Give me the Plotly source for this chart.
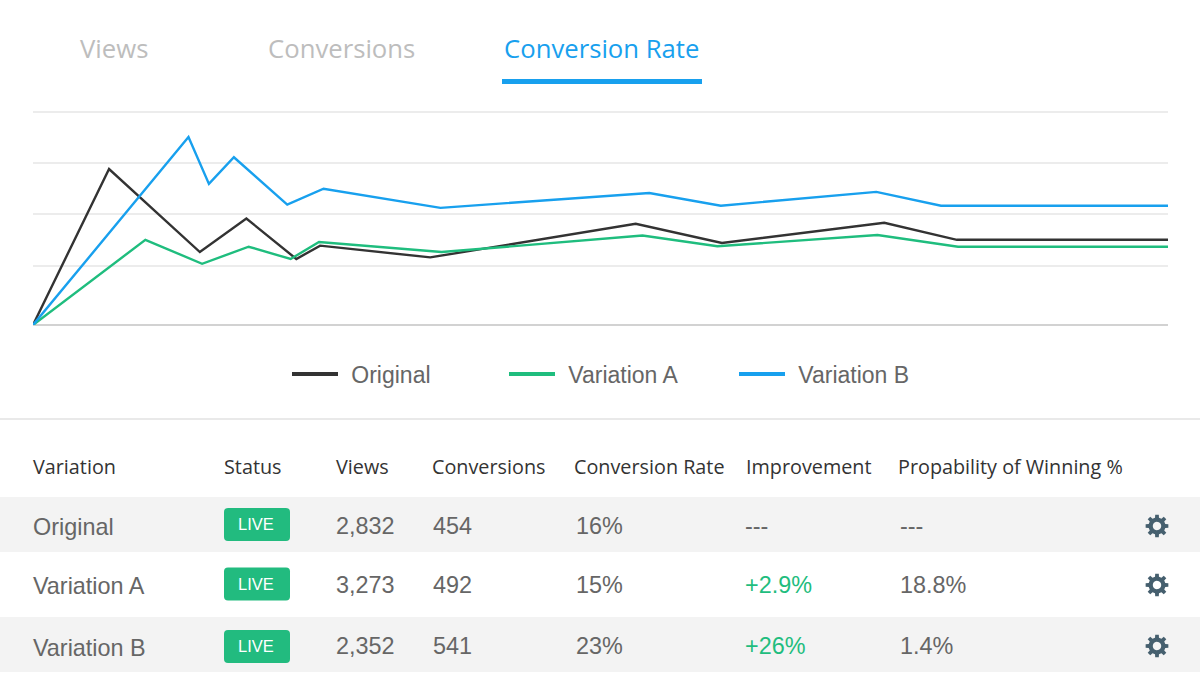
import numpy as np
import plotly.graph_objects as go

WIDTH = 1200
HEIGHT = 675

# chart values (share of visitors converting, x is elapsed test time in %)
original_x = [0, 6.7, 14.7, 18.8, 23.2, 25.3, 35.0, 53.1, 60.7, 75.0, 81.4, 100]
original_y = [0, 29.3, 13.7, 20.0, 12.4, 14.9, 12.7, 19.0, 15.4, 19.2, 16.0, 16.0]
variation_a_x = [0, 9.9, 14.9, 19.0, 22.7, 25.2, 36.0, 53.7, 60.3, 74.4, 81.5, 100]
variation_a_y = [0, 16.0, 11.5, 14.7, 12.4, 15.6, 13.7, 16.8, 14.8, 16.9, 14.7, 14.7]
variation_b_x = [0, 13.7, 15.5, 17.7, 22.4, 25.6, 35.9, 54.3, 60.6, 74.3, 80.0, 100]
variation_b_y = [0, 35.3, 26.5, 31.5, 22.6, 25.6, 22.0, 24.8, 22.4, 25.0, 22.4, 22.4]
grid_ticks = [0, 11.1, 20.8, 30.4, 40]

series_names = ["Original", "Variation A", "Variation B"]
series_colors = ["#333333", "#1fbd7e", "#18a0ee"]

tab_labels = ["Views", "Conversions", "Conversion Rate"]
table_headers = ["Variation", "Status", "Views", "Conversions", "Conversion Rate",
                 "Improvement", "Propability of Winning %"]
views = ["2,832", "3,273", "2,352"]
conversions = ["454", "492", "541"]
rates = ["16%", "15%", "23%"]
improvements = ["---", "+2.9%", "+26%"]
win_chances = ["---", "18.8%", "1.4%"]

TAB_FONT = "Open Sans"
BODY_FONT = "Liberation Sans"
GREY_TEXT = "#666666"
GEAR_COLOR = "#455f6e"


def fx(x):
    return x / WIDTH


def fy(y):
    return 1 - y / HEIGHT


def label(text, x, y, size, color, family, anchor="left"):
    return dict(text=text, x=fx(x), y=fy(y), xref="paper", yref="paper",
                xanchor=anchor, yanchor="middle", showarrow=False,
                font=dict(size=size, color=color, family=family))


def band(x0, y0, x1, y1, color):
    return dict(type="rect", xref="paper", yref="paper", x0=fx(x0), x1=fx(x1),
                y0=fy(y0), y1=fy(y1), fillcolor=color, line=dict(width=0), layer="below")


def badge_path(x0, y0, x1, y1, r=4):
    return (f"M{fx(x0 + r)},{fy(y0)} L{fx(x1 - r)},{fy(y0)} Q{fx(x1)},{fy(y0)} {fx(x1)},{fy(y0 + r)} "
            f"L{fx(x1)},{fy(y1 - r)} Q{fx(x1)},{fy(y1)} {fx(x1 - r)},{fy(y1)} "
            f"L{fx(x0 + r)},{fy(y1)} Q{fx(x0)},{fy(y1)} {fx(x0)},{fy(y1 - r)} "
            f"L{fx(x0)},{fy(y0 + r)} Q{fx(x0)},{fy(y0)} {fx(x0 + r)},{fy(y0)} Z")


def gear_path(cx, cy, teeth=8, outer=11.5, inner=8.5, hole=4.2):
    # outline with square teeth, the hole is a second subpath (evenodd fill)
    pts = []
    step = 2 * np.pi / teeth
    for i in range(teeth):
        a = i * step
        for ang, rad in [(a - step * 0.30, inner), (a - step * 0.20, outer),
                         (a + step * 0.20, outer), (a + step * 0.30, inner)]:
            pts.append((cx + rad * np.cos(ang), cy + rad * np.sin(ang)))
    path = "M" + " L".join(f"{fx(px)},{fy(py)}" for px, py in pts) + " Z "
    circle = [(cx + hole * np.cos(t), cy + hole * np.sin(t)) for t in np.linspace(0, 2 * np.pi, 24)[:-1]]
    path += "M" + " L".join(f"{fx(px)},{fy(py)}" for px, py in circle) + " Z"
    return path


fig = go.Figure()

all_x = [original_x, variation_a_x, variation_b_x]
all_y = [original_y, variation_a_y, variation_b_y]
legend_ids = ["legend", "legend2", "legend3"]

for name, color, xs, ys in zip(series_names, series_colors, all_x, all_y):
    fig.add_trace(go.Scatter(x=xs, y=ys, mode="lines", name=name, showlegend=False,
                             line=dict(color=color, width=2.4), hoverinfo="skip"))

# thicker legend keys than the plotted lines, so they get their own empty traces
# (nbsp + hair space widens the gap between key and text)
for name, color, legend_id in zip(series_names, series_colors, legend_ids):
    fig.add_trace(go.Scatter(x=[None], y=[None], mode="lines", name="\u00a0\u200a" + name,
                             legend=legend_id, line=dict(color=color, width=4), hoverinfo="skip"))

legend_style = dict(orientation="h", yanchor="middle", y=fy(374), xanchor="left",
                    itemwidth=46, bgcolor="rgba(0,0,0,0)", itemclick=False, itemdoubleclick=False,
                    font=dict(size=23, color=GREY_TEXT, family=BODY_FONT))

annotations = []
shapes = []

# tabs
annotations.append(label(tab_labels[0], 78, 49, 25.7, "#bdbdbd", TAB_FONT))
annotations.append(label(tab_labels[1], 266, 49, 25.7, "#bdbdbd", TAB_FONT))
annotations.append(label(tab_labels[2], 502, 49, 25.7, "#18a0ee", TAB_FONT))
shapes.append(band(502, 79, 702, 84, "#18a0ee"))

# divider and table rows
shapes.append(band(0, 418, WIDTH, 420, "#e9e9e9"))
shapes.append(band(0, 497, WIDTH, 552, "#f3f3f3"))
shapes.append(band(0, 617, WIDTH, 672, "#f3f3f3"))

header_x = [31, 222, 334, 430, 572, 744, 896]
for text, x in zip(table_headers, header_x):
    annotations.append(label(text, x, 466, 19.8, "#333333", TAB_FONT))

name_y = [527, 585.5, 648]
value_y = [526, 585, 646]
badge_y = [508, 567.5, 630]

for i in range(3):
    annotations.append(label(series_names[i], 31, name_y[i], 23.4, GREY_TEXT, BODY_FONT))
    annotations.append(label(views[i], 334, value_y[i], 23.4, GREY_TEXT, BODY_FONT))
    annotations.append(label(conversions[i], 431, value_y[i], 23.4, GREY_TEXT, BODY_FONT))
    annotations.append(label(rates[i], 574, value_y[i], 23.4, GREY_TEXT, BODY_FONT))
    imp_color = "#1fbd7e" if improvements[i].startswith("+") else GREY_TEXT
    annotations.append(label(improvements[i], 743, value_y[i], 23.4, imp_color, BODY_FONT))
    annotations.append(label(win_chances[i], 898, value_y[i], 23.4, GREY_TEXT, BODY_FONT))

    shapes.append(dict(type="path", xref="paper", yref="paper", layer="above",
                       path=badge_path(224, badge_y[i], 290, badge_y[i] + 33),
                       fillcolor="#22bb7f", line=dict(width=0)))
    annotations.append(label("LIVE", 256, badge_y[i] + 16, 16.5, "#ffffff", BODY_FONT, anchor="center"))
    shapes.append(dict(type="path", xref="paper", yref="paper", layer="above",
                       path=gear_path(1157, value_y[i]),
                       fillcolor=GEAR_COLOR, line=dict(width=0)))

fig.update_layout(
    width=WIDTH,
    height=HEIGHT,
    margin=dict(l=0, r=0, t=0, b=0),
    paper_bgcolor="#ffffff",
    plot_bgcolor="#ffffff",
    hovermode=False,
    annotations=annotations,
    shapes=shapes,
    legend=dict(legend_style, x=fx(287)),
    legend2=dict(legend_style, x=fx(504)),
    legend3=dict(legend_style, x=fx(734)),
    xaxis=dict(domain=[fx(33), fx(1168)], range=[0, 100], showgrid=False, zeroline=False,
               showticklabels=False, showline=False, ticks=""),
    # range runs a bit past the top tick, plotly drops a gridline sitting on the edge
    yaxis=dict(domain=[fy(325), fy(106.7)], range=[0, 41], tickvals=grid_ticks, showgrid=True,
               gridcolor="#ececec", gridwidth=1.5, zeroline=True, zerolinecolor="#d2d2d2",
               zerolinewidth=2, showticklabels=False, showline=False, ticks=""),
)

fig.write_html("out.html", config={"displayModeBar": False},
               post_script="document.body.style.margin='0';")
